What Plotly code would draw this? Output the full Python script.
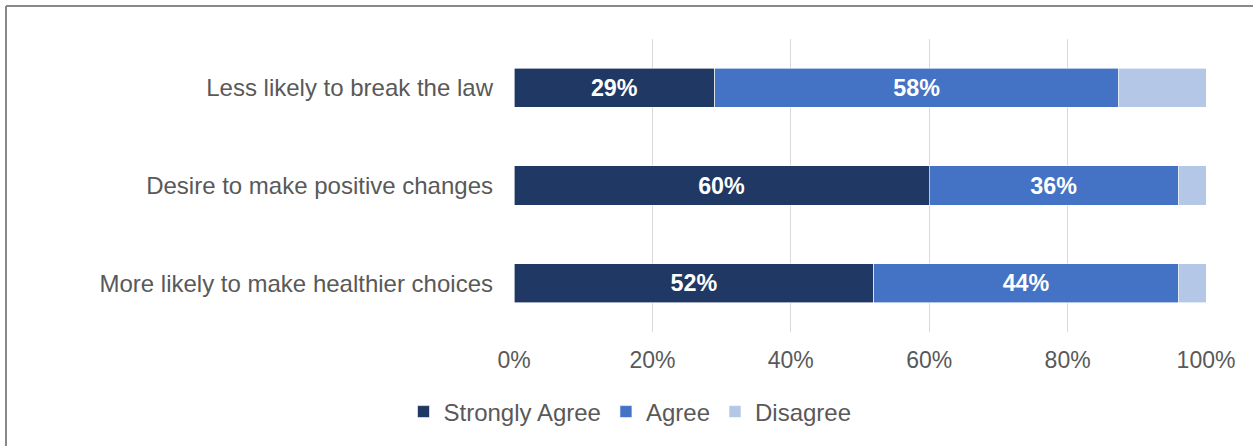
import plotly.graph_objects as go

categories = ["Less likely to break the law", "Desire to make positive changes", "More likely to make healthier choices"]
strongly_agree = [29.0, 60.0, 52.0]
agree = [58.4, 36.0, 44.0]
disagree = [12.6, 4.0, 4.0]
series_names = ["Strongly Agree", "Agree", "Disagree"]
colors = ["#203864", "#4472C4", "#B4C7E7"]
tick_vals = [0, 20, 40, 60, 80, 100]
tick_text = ["0%", "20%", "40%", "60%", "80%", "100%"]

W, H = 1253, 446
ML, MR, MT, MB = 514, 47, 39, 114
PW, PH = W - ML - MR, H - MT - MB

FONT = "Liberation Sans, Arial, sans-serif"

fig = go.Figure()
for name, vals, col, show in zip(series_names, [strongly_agree, agree, disagree], colors, [True, True, False]):
    fig.add_trace(go.Bar(
        y=categories, x=vals, name=name, orientation="h",
        marker=dict(color=col, line=dict(color="white", width=0.6)),
        texttemplate="%{x:.0f}%" if show else None,
        textposition="inside" if show else "none",
        insidetextanchor="middle",
        textfont=dict(family=FONT, size=23.3, color="white", weight="bold"),
        width=0.4,
        hoverinfo="skip",
    ))

def px_x(px):
    return (px - ML) / PW

def px_y(py):
    return (H - MB - py) / PH

fig.update_layout(
    width=W, height=H,
    margin=dict(l=ML, r=MR, t=MT, b=MB),
    barmode="stack",
    plot_bgcolor="white", paper_bgcolor="white",
    font=dict(family=FONT, size=23, color="#595959"),
    xaxis=dict(range=[0, 100], tickvals=tick_vals, ticktext=tick_text,
               showgrid=True, gridcolor="#D9D9D9", gridwidth=1,
               zeroline=False, showline=False, ticks="", ticklabelstandoff=12,
               tickfont=dict(size=23, color="#595959")),
    yaxis=dict(autorange="reversed", showgrid=False, showline=False, ticks="",
               ticklabelstandoff=20, tickfont=dict(size=24, color="#595959")),
    legend=dict(orientation="h", x=px_x(630), xanchor="center", y=px_y(412), yanchor="middle",
                font=dict(size=24, color="#595959"), traceorder="normal"),
    showlegend=True,
    bargap=0.6,
    shapes=[
        dict(type="line", xref="paper", yref="paper", x0=px_x(6), x1=px_x(1260), y0=px_y(6), y1=px_y(6),
             line=dict(color="#898989", width=2)),
        dict(type="line", xref="paper", yref="paper", x0=px_x(6), x1=px_x(6), y0=px_y(6), y1=px_y(460),
             line=dict(color="#898989", width=2)),
    ],
)

fig.write_html("out.html", config={"displayModeBar": False},
               post_script="document.body.style.margin='0';")
